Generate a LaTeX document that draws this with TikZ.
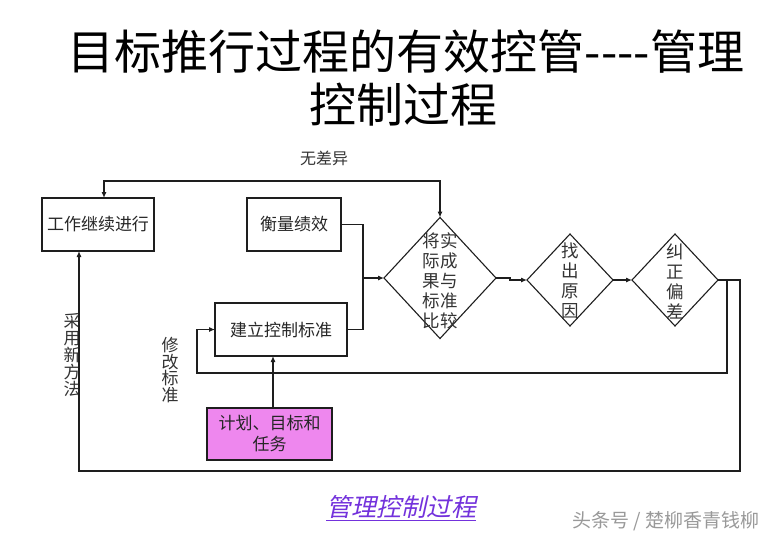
\documentclass[tikz,border=0pt]{standalone}
\usepackage{fontspec}
\setmainfont{Noto Sans CJK SC}
\newfontfamily\capfont[FakeSlant=0.22]{Noto Sans CJK SC}
\usetikzlibrary{shapes.geometric,arrows.meta}
\definecolor{pinkfill}{RGB}{238,135,238}
\definecolor{capcol}{RGB}{115,50,220}
\definecolor{linecol}{RGB}{30,30,30}
\begin{document}
\begin{tikzpicture}[x=1pt,y=-1pt,
  every node/.style={inner sep=0pt,outer sep=0pt},
  boxnode/.style={draw=linecol,line width=1.1pt,fill=white,font=\fontsize{17}{20}\selectfont,text=black!85,align=center},
  dia/.style={draw=linecol,line width=1.1pt,shape=diamond,aspect=1},
  diatext/.style={font=\fontsize{17.5}{20}\selectfont,align=center,text=black!80},
  lbl/.style={font=\fontsize{16}{17}\selectfont,align=center,text=black!80},
  conn/.style={draw=linecol,line width=1.1pt},
  arr/.style={conn,-{Latex[length=6pt,width=5pt]}}
]
\useasboundingbox (0,0) rectangle (780,538);
\fill[white] (0,0) rectangle (780,538);

% titles
\node (t1) at (406,52) {\fontsize{47}{50}\selectfont 目标推行过程的有效控管-{}-{}-{}-管理};
\node (t2) at (403,105) {\fontsize{47}{50}\selectfont 控制过程};

% boxes
\node[boxnode,minimum width=112pt,minimum height=53pt] (work) at (98,224.5) {工作继续进行};
\node[boxnode,minimum width=94pt,minimum height=53pt] (measure) at (294,224.5) {衡量绩效};
\node[boxnode,minimum width=132pt,minimum height=53pt] (std) at (281,329.5) {建立控制标准};
\node[boxnode,fill=pinkfill,minimum width=125pt,minimum height=52pt,font=\fontsize{17}{21}\selectfont] (plan) at (269.5,434) {计划、目标和\\任务};

% diamonds
\node[dia,minimum width=112pt,minimum height=121pt] (d1) at (440,278) {};
\node[diatext] (d1t) at (440,281) {将实\\际成\\果与\\标准\\比较};
\node[dia,minimum width=86pt,minimum height=92pt] (d2) at (570,280) {};
\node[diatext] (d2t) at (570,281) {找\\出\\原\\因};
\node[dia,minimum width=86pt,minimum height=92pt] (d3) at (675,280) {};
\node[diatext] (d3t) at (675,281) {纠\\正\\偏\\差};

% labels
\node[lbl] (nodiff) at (324,158) {无差异};
\node[lbl,font=\fontsize{17}{17}\selectfont] (newm) at (72,355) {采\\用\\新\\方\\法};
\node[lbl,font=\fontsize{17}{16.5}\selectfont] (modstd) at (170,370) {修\\改\\标\\准};

% connectors
\coordinate (j) at (363,278);
\coordinate (topy) at (0,181);
\draw[conn,{Latex[length=6pt,width=5pt]}-{Latex[length=6pt,width=5pt]}] (d1.north) -- (d1.north |- topy) -| ([xshift=6pt]work.north);
\draw[conn] (measure.east) -| (j);
\draw[conn] (std.east) -| (j);
\draw[arr] (j) -- (d1.west);
\draw[arr] (d1.east) -- ++(14,0) |- (d2.west);
\draw[arr] (d2.east) -- (d3.west);
\coordinate (r1) at (727,373);
\coordinate (l1) at (197,373);
\draw[arr] (d3.east) -| (r1) -- (l1) |- (std.west);
\coordinate (r2) at (740,471);
\coordinate (l2) at (79,471);
\draw[arr] (d3.east) -| (r2) -- (l2) -- (l2 |- work.south);
\draw[arr] ([xshift=3.5pt]plan.north) -- ([xshift=-8pt]std.south);

% caption and watermark
\node[text=capcol] (cap) at (401,508) {\capfont\fontsize{25}{27}\selectfont\underline{管理控制过程}};
\node[text=black!40] (wm) at (666,521) {\fontsize{19}{21}\selectfont 头条号 / 楚柳香青钱柳};
\end{tikzpicture}
\end{document}
